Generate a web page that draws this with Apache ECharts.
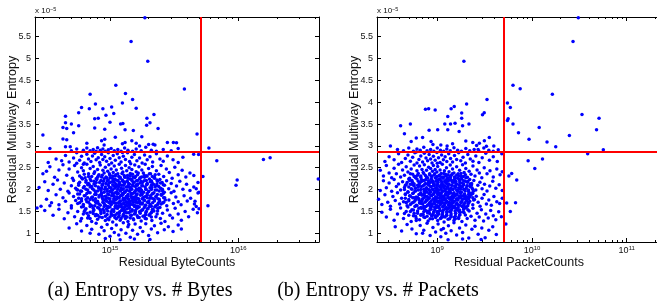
<!DOCTYPE html>
<html>
<head>
<meta charset="utf-8">
<script src="https://cdn.jsdelivr.net/npm/echarts@6/dist/echarts.min.js"></script>
<style>
  html, body { margin: 0; padding: 0; background: #fff; }
  #chart { width: 657px; height: 308px; }
</style>
</head>
<body>
<div id="chart"></div>
<script>
// 单位：字节 x 1e15，包 x 1e9，熵 x 1e-5
var BYTE_UNIT = 1e15;
var PKT_UNIT = 1e9;

// 阈值（红线）
var BYTE_LIMIT = 5.06e15;
var PKT_LIMIT = 5.02e9;
var ENTROPY_LIMIT = 2.86;

// 坐标轴范围
var byteRange = [2.603e14, 4.256e16];
var pktRange = [2.31e8, 2.3e11];
var entropyRange = [0.8, 5.95];

// 刻度
var entropyTicks = [1, 1.5, 2, 2.5, 3, 3.5, 4, 4.5, 5, 5.5];
var byteMajor = [1e15, 1e16];
var byteMinor = [3e14, 4e14, 5e14, 6e14, 7e14, 8e14, 9e14, 2e15, 3e15, 4e15, 5e15, 6e15, 7e15, 8e15, 9e15, 2e16, 3e16, 4e16];
var pktMajor = [1e9, 1e10, 1e11];
var pktMinor = [3e8, 4e8, 5e8, 6e8, 7e8, 8e8, 9e8, 2e9, 3e9, 4e9, 5e9, 6e9, 7e9, 8e9, 9e9, 2e10, 3e10, 4e10, 5e10, 6e10, 7e10, 8e10, 9e10, 2e11];

// (a) 字节 - 稀疏点
var byteSparse = [[1.87,5.93],[1.46,5.39],[1.97,4.94],[3.8,4.30],[1.11,4.39],[0.70,4.18],[1.32,4.20],[1.5,4.06],[0.77,3.96],[1.25,3.98],[0.60,3.88],[0.69,3.85],[0.88,3.85],[1.03,3.89],[1.6,3.86],[0.57,3.76],[1.07,3.74],[0.93,3.70],[2.2,3.72],[0.45,3.68],[0.76,3.62],[0.81,3.63],[1.94,3.63],[0.45,3.53],[0.5,3.50],[1.21,3.50],[1.26,3.51],[2.05,3.53],[1.93,3.47],[0.57,3.46],[0.43,3.42],[2.37,3.40],[0.46,3.40],[0.76,3.41],[0.91,3.38],[1.31,3.37],[0.52,3.30],[0.30,3.25],[0.43,3.16],[0.46,3.14],[1.0,3.54],[1.1,3.20],[1.31,3.08],[1.52,3.35],[1.77,3.21],[2.17,3.04],[3.12,3.08],[3.3,3.07],[4.77,3.27],[0.66,3.06],[0.86,3.12],[0.91,3.15],[1.48,3.12],[0.34,2.94],[0.49,2.98],[1.6,3.06],[2.24,3.02],[5.9,2.95],[4.49,2.81],[6.8,2.66],[5.3,2.30],[9.8,2.22],[9.6,2.10],[15.7,2.69],[17.7,2.73],[42.0,2.24],[5.8,1.63],[4.94,1.94],[4.7,2.02],[4.6,1.73],[4.7,1.61],[4.94,1.56],[4.9,2.80]];

// (a) 字节 - 云团
var byteCore = [
[0.55,2.93],[0.62,2.90],[0.66,2.95],[0.7,2.89],[0.74,2.92],[0.78,2.88],[0.8,2.96],[0.84,2.90],[0.88,2.93],[0.92,2.88],[0.97,2.91],[1.02,2.94],[1.08,2.89],[1.15,2.92],[1.22,2.88],[1.3,2.95],[1.38,2.90],[1.5,2.88],[1.6,2.93],[1.75,2.89],[1.9,2.97],[2.1,2.90],[2.3,2.88],[2.6,2.92],[3.0,2.89],[3.4,2.94],[0.45,2.98],[0.5,2.89],[0.9,3.02],[1.25,3.05],[2.0,3.03],[2.8,3.08],[1.7,3.0],
[0.33,2.62],[0.38,2.70],[0.42,2.66],[0.45,2.78],[0.48,2.63],[0.52,2.72],[0.55,2.84],[0.58,2.67],[0.6,2.76],[0.63,2.61],[0.66,2.81],[0.68,2.70],[0.71,2.64],[0.73,2.77],[0.76,2.83],[0.78,2.68],[0.81,2.73],[0.83,2.62],[0.86,2.80],[0.88,2.69],[0.91,2.75],[0.94,2.65],[0.97,2.84],[1.0,2.71],[1.03,2.61],[1.06,2.78],[1.1,2.67],[1.14,2.82],[1.18,2.73],[1.22,2.63],[1.27,2.76],[1.32,2.69],[1.37,2.84],[1.42,2.64],[1.48,2.74],[1.55,2.80],[1.62,2.66],[1.7,2.72],[1.78,2.61],[1.86,2.79],[1.95,2.68],[2.05,2.75],[2.15,2.63],[2.3,2.82],[2.45,2.70],[2.6,2.65],[2.8,2.77],[3.1,2.68],[3.4,2.62],[3.7,2.74],[0.62,2.58],[1.25,2.85],
[0.3,2.36],[0.34,2.52],[0.37,2.28],[0.4,2.45],[0.43,2.57],[0.46,2.33],[0.48,2.47],[0.51,2.26],[0.53,2.55],[0.56,2.40],[0.58,2.31],[0.6,2.50],[0.62,2.43],[0.64,2.27],[0.66,2.58],[0.68,2.36],[0.7,2.48],[0.72,2.30],[0.74,2.53],[0.76,2.41],[0.78,2.25],[0.8,2.46],[0.82,2.34],[0.84,2.56],[0.86,2.29],[0.88,2.44],[0.9,2.38],[0.92,2.51],[0.94,2.27],[0.96,2.42],[0.98,2.57],[1.0,2.33],[1.02,2.47],[1.04,2.26],[1.06,2.39],[1.08,2.54],[1.1,2.31],[1.12,2.45],[1.15,2.36],[1.18,2.58],[1.2,2.28],[1.23,2.49],[1.26,2.40],[1.29,2.32],[1.32,2.55],[1.35,2.43],[1.38,2.26],[1.41,2.50],[1.44,2.37],[1.48,2.46],[1.52,2.29],[1.56,2.56],[1.6,2.41],[1.64,2.34],[1.68,2.52],[1.72,2.27],[1.77,2.45],[1.82,2.38],[1.88,2.58],[1.94,2.31],[2.0,2.48],[2.07,2.36],[2.14,2.53],[2.22,2.28],[2.3,2.43],[2.4,2.35],[2.5,2.55],[2.62,2.30],[2.75,2.47],[2.9,2.39],[3.05,2.26],[3.2,2.51],[3.4,2.34],[3.65,2.44],[3.9,2.29],[4.2,2.38],[4.5,2.32],[0.32,2.42],[0.55,2.60],[1.45,2.59],
[0.28,2.05],[0.31,2.18],[0.33,1.98],[0.36,2.12],[0.39,2.22],[0.41,2.01],[0.44,2.15],[0.47,1.96],[0.5,2.09],[0.52,2.21],[0.54,2.03],[0.57,2.14],[0.59,1.97],[0.61,2.24],[0.63,2.07],[0.65,2.17],[0.67,1.99],[0.69,2.11],[0.71,2.20],[0.73,2.02],[0.75,2.13],[0.77,1.95],[0.79,2.23],[0.81,2.06],[0.83,2.16],[0.85,1.98],[0.87,2.10],[0.89,2.19],[0.91,2.01],[0.93,2.14],[0.95,1.96],[0.97,2.22],[0.99,2.05],[1.01,2.17],[1.03,1.99],[1.05,2.11],[1.07,2.24],[1.09,2.03],[1.11,2.13],[1.13,1.95],[1.15,2.20],[1.17,2.07],[1.19,2.16],[1.21,1.98],[1.23,2.10],[1.25,2.22],[1.27,2.02],[1.3,2.14],[1.33,1.97],[1.36,2.19],[1.39,2.06],[1.42,2.12],[1.45,2.00],[1.48,2.23],[1.51,2.08],[1.54,2.17],[1.57,1.96],[1.6,2.11],[1.64,2.21],[1.68,2.03],[1.72,2.15],[1.76,1.98],[1.8,2.09],[1.85,2.20],[1.9,2.01],[1.95,2.13],[2.0,1.95],[2.06,2.18],[2.12,2.05],[2.18,2.12],[2.25,1.99],[2.32,2.22],[2.4,2.07],[2.48,2.15],[2.57,1.97],[2.66,2.10],[2.76,2.20],[2.87,2.02],[3.0,2.14],[3.15,1.96],[3.3,2.08],[3.5,2.19],[3.7,2.01],[3.95,2.12],[4.2,1.98],[4.5,2.06],[4.85,2.16],[0.86,2.04],[1.0,1.95],[1.14,2.08],[1.28,2.18],[1.44,2.05],[1.62,2.00],[0.7,2.06],[0.56,1.99],
[0.29,1.62],[0.32,1.78],[0.35,1.70],[0.38,1.88],[0.4,1.65],[0.43,1.81],[0.45,1.73],[0.48,1.92],[0.5,1.63],[0.52,1.84],[0.54,1.75],[0.56,1.68],[0.58,1.90],[0.6,1.79],[0.62,1.61],[0.64,1.86],[0.66,1.72],[0.68,1.94],[0.7,1.66],[0.72,1.82],[0.74,1.76],[0.76,1.63],[0.78,1.89],[0.8,1.70],[0.82,1.83],[0.84,1.64],[0.86,1.92],[0.88,1.77],[0.9,1.68],[0.92,1.85],[0.94,1.73],[0.96,1.61],[0.98,1.88],[1.0,1.79],[1.02,1.66],[1.04,1.93],[1.06,1.71],[1.08,1.84],[1.1,1.62],[1.12,1.78],[1.14,1.90],[1.16,1.69],[1.18,1.81],[1.2,1.74],[1.22,1.64],[1.24,1.87],[1.26,1.76],[1.28,1.67],[1.3,1.94],[1.32,1.80],[1.34,1.72],[1.36,1.63],[1.38,1.85],[1.4,1.77],[1.43,1.69],[1.46,1.91],[1.49,1.75],[1.52,1.65],[1.55,1.83],[1.58,1.71],[1.61,1.88],[1.64,1.62],[1.67,1.79],[1.7,1.73],[1.74,1.93],[1.78,1.67],[1.82,1.82],[1.86,1.75],[1.9,1.64],[1.95,1.87],[2.0,1.70],[2.05,1.80],[2.1,1.62],[2.16,1.91],[2.22,1.74],[2.28,1.84],[2.35,1.66],[2.42,1.78],[2.5,1.89],[2.58,1.69],[2.67,1.81],[2.77,1.63],[2.88,1.76],[3.0,1.93],[3.12,1.68],[3.26,1.83],[3.4,1.72],[3.58,1.65],[3.78,1.86],[4.0,1.74],[4.25,1.80],[4.55,1.67],[4.85,1.92],[0.77,1.72],[0.93,1.79],[1.07,1.75],[1.21,1.86],[1.35,1.70],[1.47,1.82],[1.6,1.76],[1.73,1.68],[0.65,1.77],[1.11,1.69],[1.25,1.91],[1.41,1.64],[0.87,1.85],[1.01,1.72],[1.17,1.63],[1.55,1.94],
[0.31,1.52],[0.36,1.41],[0.4,1.55],[0.44,1.33],[0.47,1.47],[0.5,1.58],[0.53,1.38],[0.56,1.50],[0.59,1.28],[0.62,1.44],[0.65,1.56],[0.67,1.35],[0.7,1.48],[0.72,1.27],[0.75,1.53],[0.77,1.40],[0.8,1.32],[0.82,1.57],[0.85,1.45],[0.87,1.36],[0.9,1.51],[0.92,1.29],[0.95,1.43],[0.97,1.59],[1.0,1.37],[1.02,1.49],[1.05,1.26],[1.07,1.54],[1.1,1.42],[1.12,1.33],[1.15,1.58],[1.18,1.46],[1.2,1.30],[1.23,1.52],[1.26,1.39],[1.29,1.55],[1.32,1.34],[1.35,1.47],[1.38,1.27],[1.42,1.57],[1.45,1.41],[1.49,1.51],[1.53,1.31],[1.57,1.45],[1.61,1.59],[1.65,1.36],[1.7,1.49],[1.75,1.28],[1.8,1.54],[1.86,1.40],[1.92,1.33],[1.98,1.56],[2.05,1.44],[2.12,1.29],[2.2,1.51],[2.28,1.38],[2.37,1.58],[2.47,1.34],[2.57,1.46],[2.68,1.27],[2.8,1.53],[2.93,1.41],[3.07,1.35],[3.22,1.57],[3.4,1.44],[3.6,1.30],[3.85,1.50],[4.1,1.38],[4.45,1.55],[4.8,1.47],[0.88,1.55],[1.03,1.42],[1.16,1.37],[1.3,1.48],[1.44,1.35],[1.58,1.52],[0.74,1.45],[0.6,1.34],[1.9,1.47],[2.15,1.55],[0.98,1.31],[1.24,1.59],[0.27,1.58],[0.34,1.63],
[0.48,1.12],[0.55,1.22],[0.6,1.05],[0.66,1.18],[0.72,1.09],[0.78,1.23],[0.82,0.98],[0.86,1.14],[0.9,1.06],[0.95,1.20],[1.0,0.93],[1.03,1.11],[1.08,1.02],[1.12,1.19],[1.17,0.96],[1.22,1.08],[1.27,1.24],[1.33,1.00],[1.38,1.15],[1.44,0.91],[1.5,1.07],[1.57,1.21],[1.64,0.98],[1.72,1.13],[1.8,1.04],[1.9,1.22],[2.0,0.95],[2.1,1.10],[2.22,1.17],[2.35,1.01],[2.5,1.23],[2.65,1.08],[2.85,1.15],[3.1,1.04],[3.4,1.19],[3.6,1.10],[0.92,0.88],[1.2,0.85],[1.55,0.87],[2.05,0.86],[0.7,1.0],[1.4,1.2]
];

// (a) 字节 - 最密集的中心
var byteDense = [
[0.63,2.35],[0.75,2.37],[0.87,2.33],[0.99,2.36],[1.11,2.34],[1.24,2.37],[1.37,2.32],[1.5,2.35],[1.66,2.38],[1.85,2.33],[2.03,2.36],[2.25,2.34],
[0.6,2.27],[0.7,2.24],[0.8,2.28],[0.9,2.25],[1.0,2.27],[1.1,2.23],[1.2,2.26],[1.31,2.28],[1.43,2.24],[1.56,2.27],[1.7,2.25],[1.86,2.28],[2.03,2.24],[2.22,2.26],[2.45,2.23],
[0.58,2.17],[0.68,2.14],[0.78,2.16],[0.88,2.13],[0.98,2.15],[1.08,2.17],[1.18,2.13],[1.29,2.16],[1.4,2.14],[1.52,2.17],[1.65,2.13],[1.79,2.16],[1.95,2.14],[2.12,2.17],[2.32,2.13],[2.55,2.16],
[0.62,2.04],[0.72,2.07],[0.82,2.03],[0.92,2.06],[1.02,2.04],[1.12,2.07],[1.22,2.03],[1.33,2.06],[1.45,2.04],[1.58,2.07],[1.72,2.03],[1.88,2.06],[2.05,2.04],[2.25,2.07],[2.48,2.03],
[0.6,1.96],[0.7,1.93],[0.8,1.97],[0.9,1.94],[1.0,1.96],[1.1,1.93],[1.2,1.97],[1.3,1.94],[1.42,1.96],[1.55,1.93],[1.68,1.97],[1.83,1.94],[2.0,1.96],[2.2,1.93],[2.42,1.97],[2.65,1.94],
[0.63,1.86],[0.73,1.83],[0.83,1.87],[0.93,1.84],[1.03,1.86],[1.13,1.83],[1.23,1.87],[1.34,1.84],[1.46,1.86],[1.59,1.83],[1.73,1.87],[1.89,1.84],[2.07,1.86],[2.28,1.83],[2.52,1.87],
[0.6,1.74],[0.7,1.77],[0.8,1.73],[0.9,1.76],[1.0,1.74],[1.1,1.77],[1.2,1.73],[1.3,1.76],[1.42,1.74],[1.55,1.77],[1.69,1.73],[1.84,1.76],[2.01,1.74],[2.21,1.77],[2.44,1.73],[2.7,1.76],
[0.62,1.66],[0.72,1.63],[0.82,1.67],[0.92,1.64],[1.02,1.66],[1.12,1.63],[1.22,1.67],[1.33,1.64],[1.45,1.66],[1.58,1.63],[1.72,1.67],[1.88,1.64],[2.06,1.66],[2.27,1.63],[2.5,1.67],
[0.64,1.54],[0.74,1.57],[0.84,1.53],[0.94,1.56],[1.04,1.54],[1.14,1.57],[1.25,1.53],[1.36,1.56],[1.49,1.54],[1.63,1.57],[1.78,1.53],[1.95,1.56],[2.14,1.54],[2.36,1.57],
[0.66,1.46],[0.78,1.43],[0.9,1.47],[1.02,1.44],[1.14,1.46],[1.27,1.43],[1.4,1.47],[1.55,1.44],[1.72,1.46],[1.9,1.43],[2.1,1.47],[2.33,1.44],
[0.7,1.34],[0.83,1.37],[0.96,1.33],[1.09,1.36],[1.22,1.34],[1.36,1.37],[1.52,1.33],[1.69,1.36],[1.88,1.34],[2.1,1.37],
[0.68,2.30],[0.81,2.31],[0.93,2.29],[1.05,2.31],[1.17,2.30],[1.3,2.29],[1.44,2.31],[1.58,2.30],[1.76,2.29],[1.94,2.31],[2.14,2.30],
[0.65,2.21],[0.75,2.19],[0.85,2.21],[0.95,2.20],[1.05,2.19],[1.15,2.21],[1.25,2.20],[1.36,2.19],[1.48,2.21],[1.61,2.20],[1.75,2.19],[1.92,2.21],[2.1,2.20],[2.35,2.19],
[0.57,2.10],[0.67,2.11],[0.77,2.09],[0.87,2.11],[0.97,2.10],[1.07,2.09],[1.17,2.11],[1.27,2.10],[1.38,2.09],[1.5,2.11],[1.63,2.10],[1.77,2.09],[1.93,2.11],[2.1,2.10],[2.3,2.09],[2.6,2.11],
[0.55,2.00],[0.65,2.01],[0.75,1.99],[0.85,2.01],[0.95,2.00],[1.05,1.99],[1.15,2.01],[1.25,2.00],[1.36,1.99],[1.48,2.01],[1.6,2.00],[1.75,1.99],[1.91,2.01],[2.1,2.00],[2.32,1.99],[2.56,2.01],
[0.56,1.90],[0.66,1.91],[0.76,1.89],[0.86,1.91],[0.96,1.90],[1.06,1.89],[1.16,1.91],[1.27,1.90],[1.38,1.89],[1.5,1.91],[1.63,1.90],[1.78,1.89],[1.95,1.91],[2.13,1.90],[2.34,1.89],[2.6,1.91],
[0.57,1.80],[0.67,1.81],[0.77,1.79],[0.87,1.81],[0.97,1.80],[1.07,1.79],[1.17,1.81],[1.27,1.80],[1.38,1.79],[1.5,1.81],[1.63,1.80],[1.78,1.79],[1.95,1.81],[2.14,1.80],[2.36,1.79],[2.62,1.81],
[0.58,1.70],[0.68,1.71],[0.78,1.69],[0.88,1.71],[0.98,1.70],[1.08,1.69],[1.18,1.71],[1.28,1.70],[1.39,1.69],[1.51,1.71],[1.64,1.70],[1.79,1.69],[1.96,1.71],[2.15,1.70],[2.38,1.69],[2.62,1.71],
[0.6,1.60],[0.7,1.61],[0.8,1.59],[0.9,1.61],[1.0,1.60],[1.1,1.59],[1.2,1.61],[1.3,1.60],[1.42,1.59],[1.55,1.61],[1.69,1.60],[1.85,1.59],[2.03,1.61],[2.23,1.60],[2.45,1.59],
[0.63,1.50],[0.74,1.51],[0.85,1.49],[0.96,1.51],[1.07,1.50],[1.19,1.49],[1.31,1.51],[1.44,1.50],[1.58,1.49],[1.74,1.51],[1.92,1.50],[2.12,1.49],[2.35,1.51],
[0.68,1.40],[0.8,1.41],[0.92,1.39],[1.05,1.41],[1.18,1.40],[1.32,1.39],[1.47,1.41],[1.63,1.40],[1.81,1.39],[2.02,1.41]
];

// (b) 包 - 稀疏点
var pktSparse = [[30.8,5.93],[27.1,5.39],[1.91,4.94],[6.3,4.39],[7.5,4.31],[16.4,4.18],[3.35,4.06],[5.5,3.98],[5.9,3.88],[2.04,3.96],[1.51,3.90],[1.40,3.85],[0.75,3.84],[0.81,3.85],[0.95,3.82],[3.13,3.76],[3.0,3.71],[1.81,3.75],[1.29,3.67],[1.81,3.63],[5.6,3.62],[33.7,3.72],[51,3.63],[0.41,3.46],[0.52,3.50],[1.2,3.50],[1.38,3.50],[1.54,3.52],[1.85,3.46],[2.16,3.50],[6.3,3.50],[11.9,3.42],[48,3.37],[5.5,3.58],[7.2,3.30],[9.3,3.15],[14.4,3.09],[17.8,2.98],[24.8,3.24],[38.7,2.82],[56.6,2.91],[9.1,2.66],[10.7,2.48],[12.9,2.70],[6.1,2.37],[5.7,2.31],[6.9,2.22],[5.4,1.69],[6.7,1.70],[5.9,1.50],[5.3,1.21],[0.45,3.28],[0.32,3.00],[0.6,3.18],[0.53,3.10],[0.70,3.19],[0.82,3.36],[1.01,3.37],[0.86,3.10],[1.09,3.02],[1.29,3.37],[1.7,3.33],[2.0,3.11],[2.37,3.08],[2.78,3.06],[3.14,3.12],[3.54,3.19],[3.95,3.00],[1.27,3.00],[2.7,2.92],[4.8,2.82]];

// (b) 包 - 云团
var pktCore = [
[0.38,2.92],[0.44,2.89],[0.5,2.95],[0.56,2.88],[0.61,2.93],[0.66,2.90],[0.72,2.97],[0.78,2.89],[0.85,2.92],[0.92,2.88],[1.0,2.95],[1.08,2.90],[1.17,2.88],[1.26,2.93],[1.37,2.89],[1.5,2.96],[1.64,2.90],[1.8,2.88],[2.0,2.94],[2.2,2.89],[2.45,2.92],[2.75,2.88],[3.1,2.95],[3.5,2.90],[3.9,2.88],[4.4,2.91],[0.9,3.03],[1.45,3.05],[2.6,3.01],[3.3,2.99],
[0.28,2.64],[0.31,2.75],[0.35,2.68],[0.39,2.82],[0.42,2.62],[0.46,2.71],[0.49,2.79],[0.52,2.65],[0.55,2.74],[0.58,2.84],[0.61,2.61],[0.64,2.69],[0.67,2.77],[0.7,2.63],[0.73,2.83],[0.76,2.72],[0.79,2.66],[0.82,2.80],[0.85,2.70],[0.88,2.61],[0.91,2.76],[0.95,2.67],[0.99,2.85],[1.03,2.73],[1.07,2.62],[1.11,2.79],[1.16,2.68],[1.21,2.75],[1.26,2.64],[1.32,2.82],[1.38,2.71],[1.45,2.63],[1.52,2.78],[1.6,2.69],[1.68,2.84],[1.77,2.66],[1.87,2.74],[1.98,2.61],[2.1,2.80],[2.23,2.70],[2.38,2.65],[2.55,2.77],[2.75,2.62],[2.98,2.73],[3.25,2.83],[3.55,2.67],[3.9,2.75],[4.3,2.64],[0.6,2.86],[1.0,2.6],
[0.25,2.44],[0.27,2.31],[0.29,2.55],[0.31,2.38],[0.33,2.27],[0.35,2.49],[0.37,2.36],[0.39,2.58],[0.41,2.29],[0.43,2.45],[0.45,2.33],[0.47,2.52],[0.49,2.40],[0.51,2.26],[0.53,2.47],[0.55,2.35],[0.57,2.56],[0.59,2.30],[0.61,2.43],[0.63,2.37],[0.65,2.54],[0.67,2.28],[0.69,2.46],[0.71,2.39],[0.73,2.57],[0.75,2.32],[0.77,2.44],[0.79,2.27],[0.81,2.51],[0.83,2.36],[0.85,2.48],[0.87,2.30],[0.89,2.42],[0.91,2.55],[0.93,2.34],[0.95,2.46],[0.97,2.26],[0.99,2.40],[1.01,2.53],[1.04,2.31],[1.07,2.45],[1.1,2.37],[1.13,2.58],[1.16,2.29],[1.19,2.43],[1.22,2.35],[1.25,2.50],[1.29,2.27],[1.33,2.41],[1.37,2.56],[1.41,2.33],[1.45,2.47],[1.5,2.38],[1.55,2.26],[1.6,2.52],[1.66,2.36],[1.72,2.44],[1.78,2.30],[1.85,2.57],[1.92,2.39],[2.0,2.48],[2.08,2.28],[2.17,2.42],[2.27,2.35],[2.38,2.54],[2.5,2.31],[2.63,2.45],[2.78,2.38],[2.95,2.27],[3.13,2.50],[3.35,2.36],[3.6,2.43],[3.9,2.29],[4.25,2.47],[4.6,2.34],[4.85,2.41],
[0.23,2.10],[0.25,1.98],[0.27,2.20],[0.29,2.04],[0.31,2.15],[0.33,1.96],[0.35,2.23],[0.37,2.07],[0.39,2.13],[0.41,1.99],[0.43,2.18],[0.45,2.05],[0.47,2.11],[0.49,1.95],[0.51,2.21],[0.53,2.02],[0.55,2.16],[0.57,2.08],[0.59,1.97],[0.61,2.24],[0.63,2.06],[0.65,2.14],[0.67,2.00],[0.69,2.19],[0.71,2.09],[0.73,1.96],[0.75,2.22],[0.77,2.03],[0.79,2.12],[0.81,2.17],[0.83,1.98],[0.85,2.07],[0.87,2.23],[0.89,2.01],[0.91,2.14],[0.93,2.09],[0.95,1.95],[0.97,2.19],[0.99,2.05],[1.01,2.12],[1.03,1.99],[1.06,2.24],[1.09,2.04],[1.12,2.16],[1.15,2.08],[1.18,1.97],[1.21,2.20],[1.24,2.02],[1.27,2.13],[1.3,2.06],[1.34,1.96],[1.38,2.22],[1.42,2.10],[1.46,2.01],[1.5,2.17],[1.55,2.05],[1.6,2.12],[1.65,1.98],[1.71,2.23],[1.77,2.07],[1.83,2.15],[1.9,2.00],[1.97,2.19],[2.05,2.08],[2.13,1.96],[2.22,2.13],[2.32,2.04],[2.43,2.21],[2.55,1.99],[2.68,2.10],[2.82,2.17],[2.97,2.02],[3.15,2.12],[3.35,1.97],[3.58,2.08],[3.85,2.19],[4.15,2.03],[4.5,2.11],[4.85,1.98],[0.74,2.01],[0.88,2.18],[1.0,1.97],[1.14,2.11],[0.62,2.10],[0.52,2.12],[1.28,2.19],
[0.24,1.78],[0.26,1.66],[0.28,1.88],[0.3,1.71],[0.32,1.62],[0.34,1.84],[0.36,1.75],[0.38,1.93],[0.4,1.67],[0.42,1.80],[0.44,1.72],[0.46,1.89],[0.48,1.63],[0.5,1.77],[0.52,1.85],[0.54,1.69],[0.56,1.92],[0.58,1.74],[0.6,1.64],[0.62,1.82],[0.64,1.76],[0.66,1.90],[0.68,1.68],[0.7,1.79],[0.72,1.61],[0.74,1.86],[0.76,1.73],[0.78,1.94],[0.8,1.65],[0.82,1.81],[0.84,1.70],[0.86,1.87],[0.88,1.62],[0.9,1.78],[0.92,1.91],[0.94,1.67],[0.96,1.83],[0.98,1.74],[1.0,1.63],[1.02,1.88],[1.04,1.71],[1.06,1.80],[1.08,1.66],[1.1,1.93],[1.12,1.75],[1.14,1.84],[1.16,1.61],[1.18,1.77],[1.2,1.69],[1.23,1.89],[1.26,1.72],[1.29,1.82],[1.32,1.64],[1.35,1.79],[1.38,1.92],[1.41,1.68],[1.44,1.85],[1.48,1.73],[1.52,1.62],[1.56,1.87],[1.6,1.76],[1.64,1.66],[1.69,1.81],[1.74,1.94],[1.79,1.70],[1.85,1.78],[1.91,1.63],[1.97,1.86],[2.04,1.74],[2.11,1.68],[2.19,1.83],[2.28,1.91],[2.37,1.65],[2.47,1.77],[2.58,1.85],[2.7,1.71],[2.83,1.62],[2.97,1.80],[3.12,1.89],[3.3,1.67],[3.5,1.76],[3.72,1.64],[3.96,1.84],[4.25,1.72],[4.55,1.68],[4.85,1.80],[0.65,1.70],[0.79,1.77],[0.93,1.72],[1.07,1.86],[1.21,1.78],[1.36,1.66],[1.5,1.83],[0.57,1.81],[0.71,1.88],[0.85,1.64],[0.99,1.80],[1.13,1.69],[1.27,1.94],[1.42,1.75],[1.62,1.90],[1.8,1.85],[0.47,1.71],[0.69,1.75],[1.05,1.73],
[0.26,1.48],[0.29,1.37],[0.32,1.55],[0.35,1.30],[0.38,1.44],[0.41,1.58],[0.44,1.34],[0.47,1.50],[0.5,1.41],[0.53,1.27],[0.56,1.53],[0.59,1.39],[0.62,1.46],[0.65,1.31],[0.68,1.57],[0.71,1.43],[0.74,1.36],[0.77,1.51],[0.8,1.28],[0.83,1.45],[0.86,1.55],[0.89,1.33],[0.92,1.48],[0.95,1.40],[0.98,1.59],[1.01,1.29],[1.04,1.44],[1.07,1.52],[1.1,1.35],[1.14,1.47],[1.18,1.26],[1.22,1.56],[1.26,1.41],[1.3,1.32],[1.35,1.50],[1.4,1.38],[1.45,1.58],[1.5,1.29],[1.56,1.45],[1.62,1.53],[1.68,1.36],[1.75,1.48],[1.82,1.27],[1.9,1.55],[1.98,1.42],[2.07,1.34],[2.17,1.51],[2.27,1.39],[2.38,1.57],[2.5,1.30],[2.63,1.46],[2.77,1.37],[2.92,1.54],[3.08,1.28],[3.25,1.44],[3.45,1.35],[3.66,1.52],[3.9,1.40],[4.15,1.31],[4.45,1.49],[4.75,1.38],[0.73,1.55],[0.87,1.40],[1.0,1.50],[1.16,1.38],[1.33,1.57],[0.6,1.29],[1.55,1.33],[2.0,1.59],[0.45,1.45],
[0.36,1.15],[0.42,1.05],[0.48,1.20],[0.54,1.10],[0.6,0.99],[0.66,1.18],[0.72,1.07],[0.78,1.23],[0.84,0.95],[0.9,1.13],[0.96,1.03],[1.02,1.21],[1.09,0.92],[1.16,1.11],[1.23,1.00],[1.31,1.17],[1.4,1.06],[1.5,1.24],[1.6,0.96],[1.72,1.12],[1.85,1.02],[2.0,1.19],[2.15,0.89],[2.32,1.09],[2.5,1.16],[2.7,0.98],[2.95,1.12],[3.2,0.90],[3.5,1.07],[3.85,1.15],[4.2,0.97],[1.85,0.87],[2.9,0.86],[1.3,0.85],[0.7,1.0],[1.1,1.08]
];

// (b) 包 - 最密集的中心
var pktDense = [
[0.52,2.36],[0.62,2.33],[0.72,2.37],[0.83,2.34],[0.94,2.36],[1.05,2.33],[1.17,2.37],[1.3,2.34],[1.44,2.36],[1.6,2.33],[1.78,2.37],[1.98,2.34],
[0.5,2.24],[0.59,2.27],[0.68,2.23],[0.77,2.26],[0.86,2.24],[0.95,2.27],[1.05,2.23],[1.15,2.26],[1.26,2.24],[1.38,2.27],[1.51,2.23],[1.65,2.26],[1.81,2.24],[2.0,2.27],[2.2,2.23],
[0.48,2.16],[0.57,2.13],[0.66,2.17],[0.75,2.14],[0.84,2.16],[0.93,2.13],[1.02,2.17],[1.12,2.14],[1.22,2.16],[1.33,2.13],[1.45,2.17],[1.58,2.14],[1.73,2.16],[1.9,2.13],[2.08,2.17],[2.3,2.14],
[0.5,2.06],[0.59,2.03],[0.68,2.07],[0.77,2.04],[0.86,2.06],[0.96,2.03],[1.06,2.07],[1.17,2.04],[1.28,2.06],[1.4,2.03],[1.53,2.07],[1.68,2.04],[1.84,2.06],[2.02,2.03],[2.22,2.07],
[0.49,1.94],[0.58,1.97],[0.67,1.93],[0.76,1.96],[0.85,1.94],[0.94,1.97],[1.04,1.93],[1.14,1.96],[1.25,1.94],[1.37,1.97],[1.5,1.93],[1.64,1.96],[1.8,1.94],[1.97,1.97],[2.17,1.93],[2.4,1.96],
[0.51,1.86],[0.6,1.83],[0.69,1.87],[0.78,1.84],[0.87,1.86],[0.97,1.83],[1.07,1.87],[1.18,1.84],[1.29,1.86],[1.41,1.83],[1.55,1.87],[1.7,1.84],[1.87,1.86],[2.05,1.83],[2.26,1.87],
[0.5,1.74],[0.59,1.77],[0.68,1.73],[0.77,1.76],[0.86,1.74],[0.95,1.77],[1.05,1.73],[1.15,1.76],[1.26,1.74],[1.38,1.77],[1.51,1.73],[1.66,1.76],[1.82,1.74],[2.0,1.77],[2.2,1.73],[2.42,1.76],
[0.52,1.66],[0.61,1.63],[0.7,1.67],[0.79,1.64],[0.88,1.66],[0.98,1.63],[1.08,1.67],[1.19,1.64],[1.31,1.66],[1.44,1.63],[1.58,1.67],[1.74,1.64],[1.91,1.66],[2.1,1.63],
[0.54,1.54],[0.64,1.57],[0.74,1.53],[0.84,1.56],[0.94,1.54],[1.05,1.57],[1.16,1.53],[1.28,1.56],[1.41,1.54],[1.56,1.57],[1.72,1.53],[1.9,1.56],[2.1,1.54],
[0.57,1.46],[0.68,1.43],[0.79,1.47],[0.9,1.44],[1.01,1.46],[1.13,1.43],[1.26,1.47],[1.4,1.44],[1.56,1.46],[1.73,1.43],[1.92,1.47],
[0.6,1.34],[0.72,1.37],[0.84,1.33],[0.96,1.36],[1.08,1.34],[1.21,1.37],[1.35,1.33],[1.51,1.36],[1.68,1.34],
[0.57,2.30],[0.67,2.31],[0.77,2.29],[0.88,2.31],[0.99,2.30],[1.11,2.29],[1.23,2.31],[1.37,2.30],[1.52,2.29],[1.69,2.31],[1.88,2.30],
[0.54,2.21],[0.63,2.19],[0.72,2.21],[0.81,2.20],[0.9,2.19],[1.0,2.21],[1.1,2.20],[1.2,2.19],[1.31,2.21],[1.43,2.20],[1.57,2.19],[1.72,2.21],[1.9,2.20],[2.1,2.19],
[0.46,2.10],[0.55,2.11],[0.64,2.09],[0.73,2.11],[0.82,2.10],[0.91,2.09],[1.0,2.11],[1.1,2.10],[1.2,2.09],[1.31,2.11],[1.43,2.10],[1.56,2.09],[1.71,2.11],[1.88,2.10],[2.07,2.09],[2.3,2.11],
[0.45,2.00],[0.54,2.01],[0.63,1.99],[0.72,2.01],[0.81,2.00],[0.9,1.99],[1.0,2.01],[1.1,2.00],[1.21,1.99],[1.33,2.01],[1.46,2.00],[1.6,1.99],[1.76,2.01],[1.94,2.00],[2.14,1.99],[2.37,2.01],
[0.46,1.90],[0.55,1.91],[0.64,1.89],[0.73,1.91],[0.82,1.90],[0.91,1.89],[1.0,1.91],[1.1,1.90],[1.21,1.89],[1.33,1.91],[1.46,1.90],[1.6,1.89],[1.76,1.91],[1.94,1.90],[2.14,1.89],[2.37,1.91],
[0.46,1.80],[0.55,1.81],[0.64,1.79],[0.73,1.81],[0.82,1.80],[0.91,1.79],[1.0,1.81],[1.1,1.80],[1.21,1.79],[1.33,1.81],[1.46,1.80],[1.6,1.79],[1.76,1.81],[1.94,1.80],[2.14,1.79],[2.37,1.81],
[0.47,1.70],[0.56,1.71],[0.65,1.69],[0.74,1.71],[0.83,1.70],[0.92,1.69],[1.01,1.71],[1.11,1.70],[1.22,1.69],[1.34,1.71],[1.47,1.70],[1.61,1.69],[1.77,1.71],[1.95,1.70],[2.15,1.69],
[0.49,1.60],[0.58,1.61],[0.67,1.59],[0.76,1.61],[0.85,1.60],[0.94,1.59],[1.04,1.61],[1.14,1.60],[1.25,1.59],[1.37,1.61],[1.51,1.60],[1.66,1.59],[1.83,1.61],[2.02,1.60],
[0.52,1.50],[0.62,1.51],[0.72,1.49],[0.82,1.51],[0.92,1.50],[1.03,1.49],[1.14,1.51],[1.26,1.50],[1.39,1.49],[1.54,1.51],[1.7,1.50],[1.88,1.49],
[0.56,1.40],[0.67,1.41],[0.78,1.39],[0.89,1.41],[1.0,1.40],[1.12,1.39],[1.25,1.41],[1.39,1.40],[1.55,1.39],[1.72,1.41]
];

var FONT = "'Liberation Sans', Arial, sans-serif";
var INK = '#111';

function toData(arr, unit) {
    return arr.map(function (p) { return [p[0] * unit, p[1]]; });
}

function log10List(arr) {
    return arr.map(function (v) { return Math.log10(v); });
}

/*一个子图的坐标轴*/
function buildAxes(gi, range, major, minor, xName) {
    var lo = Math.log10(range[0]), hi = Math.log10(range[1]);
    var tickLine = { color: '#000', width: 1 };
    var xs = [
        // 数据轴（对数）
        { type: 'log', gridIndex: gi, position: 'bottom', logBase: 10, min: range[0], max: range[1],
          axisLine: { show: false }, axisTick: { show: false }, axisLabel: { show: false }, splitLine: { show: false } },
        // 底部主刻度 + 标签
        { type: 'value', gridIndex: gi, position: 'bottom', min: lo, max: hi,
          axisLine: { show: true, lineStyle: { color: '#000', width: 1 } },
          axisTick: { show: true, inside: true, length: 4, customValues: log10List(major), lineStyle: tickLine },
          axisLabel: { show: true, customValues: log10List(major), margin: 3, color: INK,
              formatter: function (v) { return '{b|10}{s|' + Math.round(v) + '}'; },
              rich: {
                  b: { fontSize: 9, fontFamily: FONT, color: INK, lineHeight: 12, verticalAlign: 'middle' },
                  s: { fontSize: 6, fontFamily: FONT, color: INK, lineHeight: 5, verticalAlign: 'top' }
              } },
          splitLine: { show: false },
          name: xName, nameLocation: 'middle', nameGap: 14, nameMoveOverlap: false,
          nameTextStyle: { fontSize: 12.5, fontFamily: FONT, color: INK } },
        // 底部次刻度
        { type: 'value', gridIndex: gi, position: 'bottom', min: lo, max: hi,
          axisLine: { show: false }, axisLabel: { show: false }, splitLine: { show: false },
          axisTick: { show: true, inside: true, length: 2, customValues: log10List(minor), lineStyle: tickLine } },
        // 顶部主刻度
        { type: 'value', gridIndex: gi, position: 'top', min: lo, max: hi,
          axisLine: { show: true, lineStyle: { color: '#000', width: 1 } }, axisLabel: { show: false }, splitLine: { show: false },
          axisTick: { show: true, inside: true, length: 4, customValues: log10List(major), lineStyle: tickLine } },
        // 顶部次刻度
        { type: 'value', gridIndex: gi, position: 'top', min: lo, max: hi,
          axisLine: { show: false }, axisLabel: { show: false }, splitLine: { show: false },
          axisTick: { show: true, inside: true, length: 2, customValues: log10List(minor), lineStyle: tickLine } }
    ];
    var ys = [
        { type: 'value', gridIndex: gi, position: 'left', min: entropyRange[0], max: entropyRange[1],
          axisLine: { show: true, lineStyle: { color: '#000', width: 1 } },
          axisTick: { show: true, inside: true, length: 4, customValues: entropyTicks, lineStyle: tickLine },
          axisLabel: { show: true, customValues: entropyTicks, margin: 4, fontSize: 9, fontFamily: FONT, color: INK },
          splitLine: { show: false },
          name: 'Residual Multiway Entropy', nameLocation: 'middle', nameGap: 16, nameMoveOverlap: false,
          nameTextStyle: { fontSize: 12.5, fontFamily: FONT, color: INK } },
        { type: 'value', gridIndex: gi, position: 'right', min: entropyRange[0], max: entropyRange[1],
          axisLine: { show: true, lineStyle: { color: '#000', width: 1 } },
          axisTick: { show: true, inside: true, length: 4, customValues: entropyTicks, lineStyle: tickLine },
          axisLabel: { show: false }, splitLine: { show: false } }
    ];
    return { xs: xs, ys: ys };
}

/*散点 + 红色阈值线*/
function buildSeries(xi, yi, pts, limitX) {
    return [
        { type: 'scatter', xAxisIndex: xi, yAxisIndex: yi, data: pts, symbol: 'circle', symbolSize: 3.5,
          itemStyle: { color: '#0000ff', opacity: 1 }, silent: true, z: 2 },
        { type: 'scatter', xAxisIndex: xi, yAxisIndex: yi, data: [], z: 5, silent: true,
          markLine: { silent: true, symbol: 'none', animation: false, label: { show: false },
              lineStyle: { color: '#ff0000', width: 2, type: 'solid' },
              emphasis: { disabled: true },
              data: [{ xAxis: limitX }, { yAxis: ENTROPY_LIMIT }] } }
    ];
}

var a = buildAxes(0, byteRange, byteMajor, byteMinor, 'Residual ByteCounts');
var b = buildAxes(1, pktRange, pktMajor, pktMinor, 'Residual PacketCounts');

var bytePts = toData(byteCore.concat(byteDense, byteSparse), BYTE_UNIT);
var pktPts = toData(pktCore.concat(pktDense, pktSparse), PKT_UNIT);

function expText(x, y) {
    return { type: 'text', x: x, y: y, silent: true,
        style: { text: '{a|x 10}{s|\u22125}', rich: {
            a: { fontSize: 8, fontFamily: FONT, fill: INK, lineHeight: 10, verticalAlign: 'middle' },
            s: { fontSize: 5.5, fontFamily: FONT, fill: INK, lineHeight: 5, verticalAlign: 'top' } } } };
}

function caption(x, txt) {
    return { type: 'text', x: x, y: 291, silent: true,
        style: { text: txt, fontSize: 20, fontFamily: "'Liberation Serif', 'Times New Roman', serif",
                 fill: '#000', align: 'center', verticalAlign: 'middle' } };
}

var chart = echarts.init(document.getElementById('chart'), null, { renderer: 'canvas' });
chart.setOption({
    animation: false,
    backgroundColor: '#fff',
    grid: [
        { left: 35, top: 17, width: 284, height: 225, outerBoundsMode: 'none', containLabel: false },
        { left: 377, top: 17, width: 284, height: 225, outerBoundsMode: 'none', containLabel: false }
    ],
    xAxis: a.xs.concat(b.xs),
    yAxis: a.ys.concat(b.ys),
    series: buildSeries(0, 0, bytePts, BYTE_LIMIT).concat(buildSeries(5, 2, pktPts, PKT_LIMIT)),
    graphic: [
        expText(35, 6),
        expText(377, 6),
        caption(140, '(a) Entropy vs. # Bytes'),
        caption(378, '(b) Entropy vs. # Packets')
    ]
});
</script>
</body>
</html>
